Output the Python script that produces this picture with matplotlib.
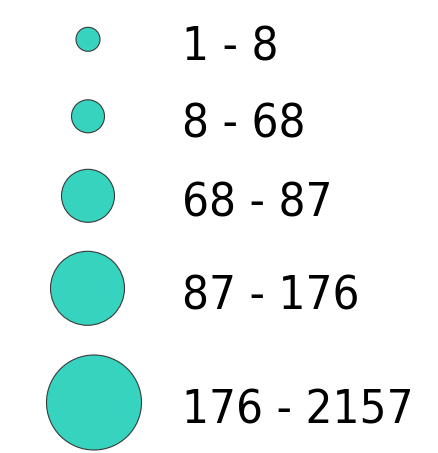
import matplotlib
matplotlib.use("Agg")
import matplotlib.pyplot as plt
from matplotlib.patches import Circle

labels = ["1 - 8", "8 - 68", "68 - 87", "87 - 176", "176 - 2157"]
radii_px = [12, 16.5, 26.5, 37, 47.5]

centers_x = [88, 88, 88, 87.5, 94]
centers_y = [39.3, 116.3, 195.8, 288.3, 402.5]

W, H = 439, 453
fig = plt.figure(figsize=(W / 100, H / 100), dpi=100)
ax = fig.add_axes([0, 0, 1, 1])
ax.set_xlim(0, W)
ax.set_ylim(H, 0)
ax.set_aspect("equal")
ax.axis("off")

fill = "#36D3BE"
edge = "#3a3a3a"
for lab, r, cx, cy in zip(labels, radii_px, centers_x, centers_y):
    ax.add_patch(Circle((cx, cy), r, facecolor=fill, edgecolor=edge, linewidth=0.8))
    ax.text(182, cy + 21, lab, fontsize=34, family="DejaVu Sans", stretch="condensed",
            ha="left", va="baseline", color="black")

fig.savefig("out.png", dpi=100)
